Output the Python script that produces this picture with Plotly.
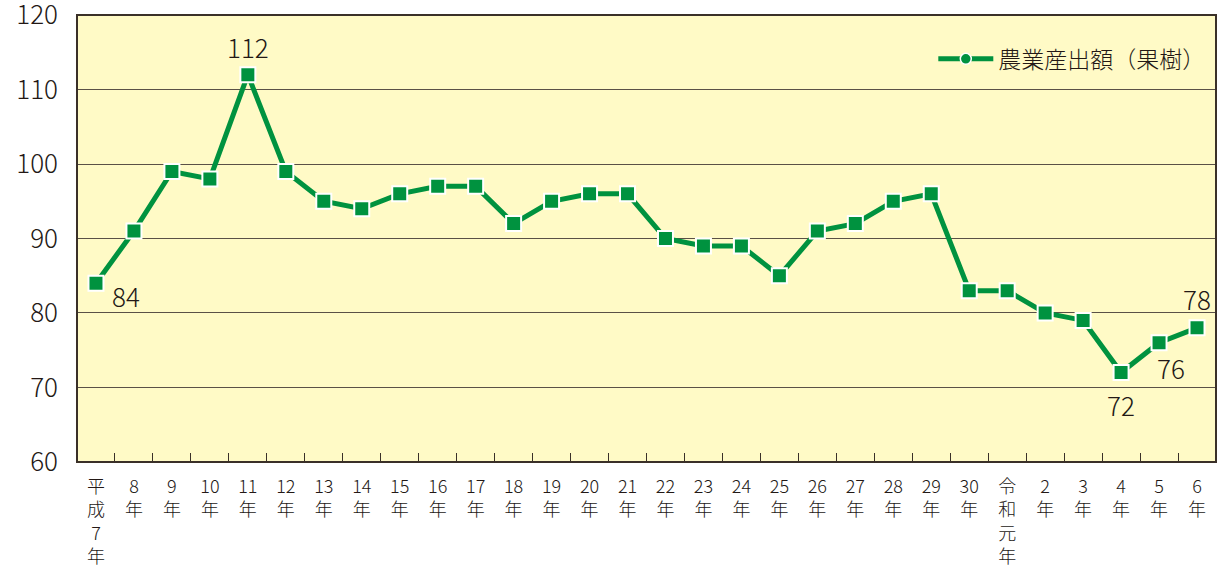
import plotly.graph_objects as go

# 年次（平成7年〜令和6年）
years = ["平<br>成<br>7<br>年", "8<br>年", "9<br>年", "10<br>年", "11<br>年", "12<br>年",
         "13<br>年", "14<br>年", "15<br>年", "16<br>年", "17<br>年", "18<br>年",
         "19<br>年", "20<br>年", "21<br>年", "22<br>年", "23<br>年", "24<br>年",
         "25<br>年", "26<br>年", "27<br>年", "28<br>年", "29<br>年", "30<br>年",
         "令<br>和<br>元<br>年", "2<br>年", "3<br>年", "4<br>年", "5<br>年", "6<br>年"]

# 農業産出額（果樹）
output_value = [84, 91, 99, 98, 112, 99, 95, 94, 96, 97, 97, 92, 95, 96, 96,
                90, 89, 89, 85, 91, 92, 95, 96, 83, 83, 80, 79, 72, 76, 78]

y_ticks = [60, 70, 80, 90, 100, 110, 120]

# 数値を表示する点: (index, xshift, yshift)
labeled = [(0, 30, -12), (4, 0, 28), (27, 0, -32), (28, 12, -25), (29, 0, 29)]

GREEN = "#00923F"
TEXT = "#231815"
FONT = "Noto Sans CJK JP"

fig = go.Figure()

fig.add_trace(go.Scatter(
    x=years, y=output_value, mode="lines+markers",
    line=dict(color=GREEN, width=5),
    marker=dict(symbol="square", size=15, color=GREEN,
                line=dict(color="white", width=2)),
    showlegend=False,
))

# 凡例用
fig.add_trace(go.Scatter(
    x=[None], y=[None], mode="lines+markers", name="農業産出額（果樹）",
    line=dict(color=GREEN, width=5),
    marker=dict(symbol="circle", size=11, color=GREEN,
                line=dict(color="white", width=1.5)),
))

for i, xs, ys in labeled:
    fig.add_annotation(x=years[i], y=output_value[i], text=str(output_value[i]),
                       showarrow=False, xshift=xs, yshift=ys,
                       font=dict(family=FONT, size=26, color=TEXT, weight=300))

fig.update_layout(
    width=1219, height=568,
    margin=dict(l=77, r=3, t=15, b=106),
    paper_bgcolor="white",
    plot_bgcolor="#FFFAC6",
    font=dict(family=FONT, color=TEXT),
    legend=dict(x=0.995, y=0.95, xanchor="right", yanchor="top",
                bgcolor="rgba(0,0,0,0)",
                font=dict(size=23, color=TEXT, weight=300),
                itemwidth=55),
    xaxis=dict(
        type="category", ticks="inside", tickson="boundaries", ticklen=9,
        tickcolor="#3a3028", tickwidth=1.2,
        showgrid=False, showline=False, zeroline=False,
        tickfont=dict(size=18, color=TEXT, weight=300), tickangle=0,
        ticklabelstandoff=12, automargin=False,
        range=[-0.5, len(years) - 0.5],
    ),
    yaxis=dict(
        range=[59.99, 120.01], tickvals=y_ticks, showgrid=True,
        gridcolor="#5a5046", gridwidth=1, zeroline=False,
        showline=False, ticks="", tickfont=dict(size=26, color=TEXT, weight=300),
        ticklabelstandoff=18, ticklabeloverflow="allow", automargin=False,
    ),
)

# 枠線
fig.add_shape(type="rect", xref="paper", yref="paper", x0=0, y0=0, x1=1, y1=1,
              line=dict(color="#3a3028", width=2), layer="above")

fig.write_html("out.html")
